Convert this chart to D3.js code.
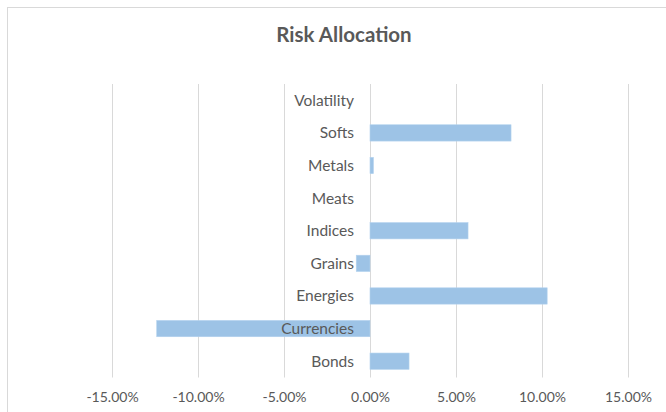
<!DOCTYPE html>
<html><head><meta charset="utf-8">
<script src="https://cdn.jsdelivr.net/npm/d3@7"></script>
<style>body{margin:0;background:#fff}svg{display:block}</style>
</head><body>
<svg id="c" width="666" height="412"></svg>
<script>
const categories = ["Bonds","Currencies","Energies","Grains","Indices","Meats","Metals","Softs","Volatility"];
const values = [0.0227, -0.124, 0.103, -0.008, 0.057, 0, 0.002, 0.082, 0];
const tickValues = [-0.15,-0.10,-0.05,0,0.05,0.10,0.15];
const title = "Risk Allocation";

const svg = d3.select("#c");
const font = "Lato, 'Open Sans', sans-serif";
const textColor = "#595959";

svg.append("rect").attr("x",7.5).attr("y",7.5).attr("width",700).attr("height",420)
  .attr("fill","#fff").attr("stroke","#d9d9d9");

svg.append("text").attr("x",344).attr("y",42).attr("text-anchor","middle")
  .attr("font-family",font).attr("font-weight","bold").attr("font-size",20.5)
  .attr("fill",textColor).text(title);

const x = d3.scaleLinear().domain([-0.15,0.15]).range([112,628]);
const y = d3.scaleBand().domain(categories.slice().reverse()).range([84,377.5]).paddingInner(0.5).paddingOuter(0.25);

svg.append("g").selectAll("line").data(tickValues).join("line")
  .attr("x1",d=>Math.round(x(d))+0.5).attr("x2",d=>Math.round(x(d))+0.5)
  .attr("y1",84).attr("y2",377.5).attr("stroke","#d9d9d9").attr("stroke-width",1);

svg.append("g").selectAll("rect").data(categories).join("rect")
  .attr("x",(d,i)=>x(Math.min(0,values[i])))
  .attr("width",(d,i)=>Math.abs(x(values[i])-x(0)))
  .attr("y",d=>y(d)).attr("height",y.bandwidth())
  .attr("fill","#9dc3e6").attr("stroke","#b4d2ee").attr("stroke-width",0.6);

const fmt = d3.format(".2%");
const xAxis = d3.axisBottom(x).tickValues(tickValues).tickFormat(d=>fmt(d).replace("\u2212","-")).tickSize(0).tickPadding(0);
const gx = svg.append("g").attr("transform","translate(0,392)").call(xAxis);
gx.select(".domain").remove();
gx.selectAll("text").attr("font-family",font).attr("font-size",14).attr("fill",textColor).attr("dy","0.71em");

svg.append("g").selectAll("text").data(categories).join("text")
  .attr("x",x(0)-16).attr("y",d=>y(d)+y.bandwidth()/2).attr("dy","0.35em")
  .attr("text-anchor","end").attr("font-family",font).attr("font-size",15.5)
  .attr("fill",textColor).text(d=>d);
</script>
</body></html>
